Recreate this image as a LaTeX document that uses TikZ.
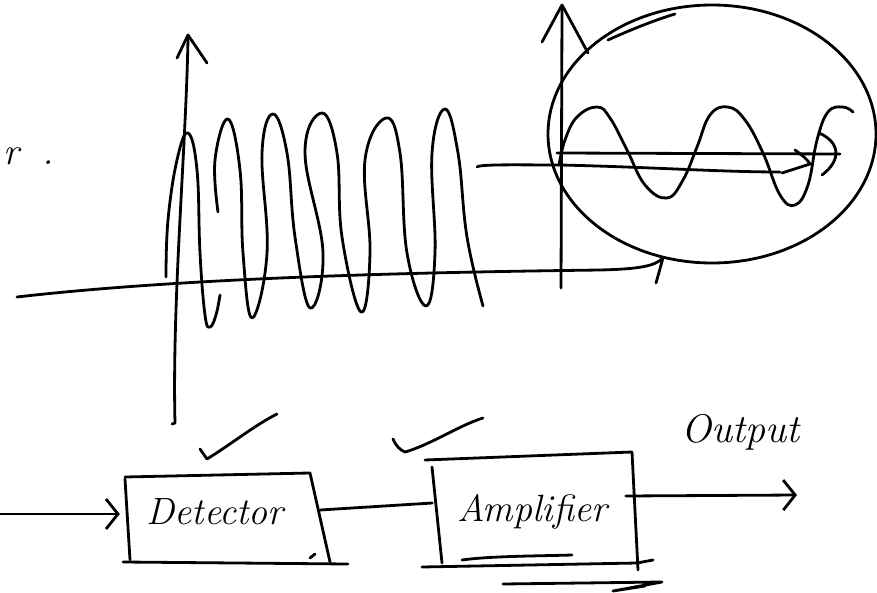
\documentclass[tikz,border=0pt]{standalone}
\usetikzlibrary{arrows.meta}
\begin{document}
\begin{tikzpicture}[x=1pt,y=-1pt,
  pen/.style={line width=2.8pt,line cap=round,line join=round},
  lbl/.style={font=\fontsize{38}{42}\selectfont\itshape, inner sep=0pt},
  boxnode/.style={inner sep=0pt, draw=none},
  barb/.style={-{Straight Barb[length=12pt,width=30pt]}}]
\useasboundingbox (0,0) rectangle (877,593);

% fragment of text at the left edge
\node[lbl, anchor=base west] (frag) at (3,165) {r\hspace{24pt}.};

% ---------- modulated signal ----------
% vertical axis
\draw[pen] (188,38) .. controls (186,150) and (172,300) .. (175,423) -- (172,424);
\draw[pen] (177,58) -- (188,35) -- (207,63);
% horizontal axis
\draw[pen] (17,297) .. controls (200,276) and (450,272) .. (600,270)
  .. controls (640,269) and (655,266) .. (663,258) -- (656,283);
% carrier wave, first stroke
\draw[pen] plot[smooth, tension=0.7] coordinates {(166,277) (168,220) (177,160) (188,133) (197,170) (200,253) (205,315) (210,327) (216,315) (220,295)};
% carrier wave, main stroke
\draw[pen] plot[smooth, tension=0.7] coordinates {
 (218,212) (215,160) (228,119) (240,170) (243,253) (252,318)
 (267,253) (262,153) (273,114) (287,153) (295,237) (310,308)
 (323,253) (305,153) (322,113) (337,153) (342,237) (361,312)
 (370,253) (365,160) (386,118) (400,153) (407,253) (426,306)
 (435,253) (432,153) (445,109) (458,153) (467,237) (483,306)};

% ---------- zoomed view ----------
\draw[pen] (712,134) ellipse [x radius=164, y radius=129];
\draw[pen] (608,40) .. controls (630,30) and (655,20) .. (675,14);
% second vertical axis
\draw[pen] (562,8) -- (561,288);
\draw[pen] (542,42) -- (562,5) -- (588,53);
% lower line with its head
\draw[pen] (477,167) .. controls (480,164) and (520,165) .. (560,165)
  .. controls (650,167) and (720,172) .. (780,172);
\draw[pen] (795,150) .. controls (802,155) and (808,160) .. (810,164) -- (782,173);
% upper line with its head
\draw[pen] (557,153) -- (840,154);
\draw[pen] (819,133) .. controls (840,142) and (842,160) .. (822,175);
% message wave
\draw[pen] plot[smooth, tension=0.7] coordinates {
 (559,165) (565,140) (577,117) (597,107) (610,118) (627,150) (645,185) (667,198)
 (683,180) (697,147) (710,115) (728,107) (745,120) (763,153) (780,195) (795,205)
 (808,185) (817,140) (828,112) (843,107) (853,112)};

% ---------- block diagram ----------
% check marks
\draw[pen] (200,449) -- (207,459) .. controls (230,445) and (255,425) .. (277,414);
\draw[pen] (393,439) .. controls (396,446) and (400,450) .. (405,452)
  .. controls (430,445) and (460,425) .. (483,418);

% detector
\node[boxnode, minimum width=190pt, minimum height=86pt] (det) at (220,518) {};
\node[lbl] (dettext) at (215,512) {Detector};
\draw[pen] (125,477) -- (310,473) -- (330,562);
\draw[pen] (125,479) -- (130,560);
\draw[pen] (123,562) -- (348,564);
\draw[pen] (310,558) -- (315,554);

% amplifier
\node[boxnode, minimum width=205pt, minimum height=108pt] (amp) at (535,510) {};
\node[lbl] (amptext) at (532,512) {Amplifier};
\draw[pen] (425,460) -- (632,452) -- (638,570);
\draw[pen] (432,467) -- (442,563);
\draw[pen] (422,567) -- (637,563) -- (653,560);
\draw[pen] (462,560) .. controls (490,556) and (540,556) .. (572,555);
\draw[pen] (503,584) -- (662,582) -- (613,591) -- (645,586);

% output label
\node[lbl, font=\fontsize{40}{44}\selectfont\itshape] (outtext) at (740,432) {Output};

% connectors
\coordinate (inp) at (0,514);
\coordinate (outp) at (797,495);
\draw[pen, barb] (inp) -- ([xshift=-5pt,yshift=4pt]det.west);
\draw[pen] ([xshift=5pt,yshift=8pt]det.east) -- ([yshift=7pt]amp.west);
\draw[pen, barb] ([xshift=-12pt,yshift=14pt]amp.east) -- (outp);
\end{tikzpicture}
\end{document}
